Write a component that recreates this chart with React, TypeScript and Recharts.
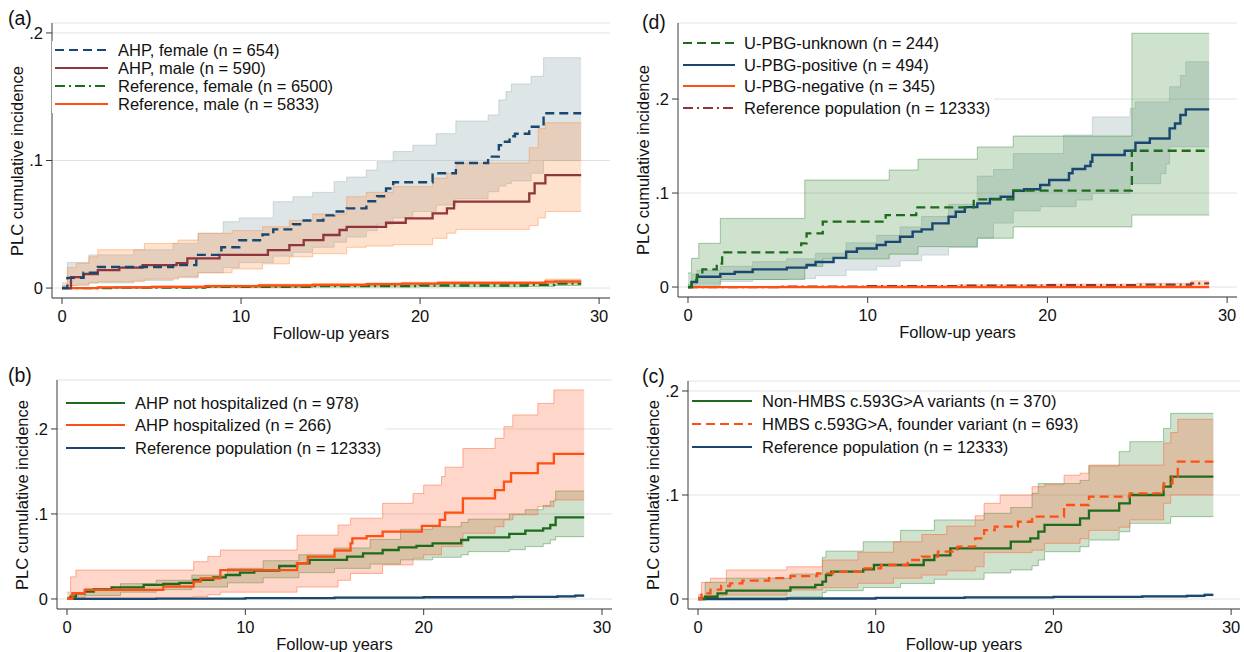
import React from 'react';
import { ComposedChart, Line, Area, XAxis, YAxis, CartesianGrid } from 'recharts';

const FONT = "'Liberation Sans', Arial, Helvetica, sans-serif";

const NAVY = '#1a476f';
const MAROON = '#90353b';
const GREEN = '#1e6b1e';
const ORANGE = '#ff4f12';
const GREY_CI = '#9fb4b8';
const PEACH_CI = '#ff8c3c';
const SALMON_CI = '#ff5a2d';
const GREEN_CI = '#3c8c3c';

const DASH = '9 5';
const DASH_DOT = '10 4 2 4';

const xTicks = [0, 10, 20, 30];
const yTicks = [0, 0.1, 0.2];

// (a) AHP by sex
const aFemT = [0, 0.3, 1.2, 2.0, 6.2, 7.5, 8.9, 9.9, 11.2, 11.8, 12.9, 13.5, 14.6, 15.2, 15.9, 17.0, 17.6, 18.1, 18.5, 20.7, 22.0, 23.8, 24.4, 24.6, 25.0, 25.3, 26.1, 26.9, 29.0];
const aFemV = [0, 0.008, 0.012, 0.0165, 0.018, 0.026, 0.032, 0.0375, 0.042, 0.046, 0.05, 0.053, 0.057, 0.06, 0.0625, 0.068, 0.072, 0.078, 0.083, 0.09, 0.098, 0.103, 0.112, 0.1147, 0.119, 0.121, 0.1265, 0.137, 0.137];
const aFemCiT = [0, 0.3, 1.5, 4, 6.2, 7.6, 9.0, 9.9, 11.8, 12.9, 14.0, 15.2, 15.9, 17.0, 17.6, 18.5, 19.6, 20.9, 22.0, 23.8, 24.4, 24.8, 25.1, 26.2, 26.9, 29.0];
const aFemHi = [0.002, 0.02, 0.026, 0.03, 0.035, 0.043, 0.052, 0.055, 0.0677, 0.0716, 0.075, 0.0834, 0.087, 0.0925, 0.099, 0.107, 0.112, 0.121, 0.131, 0.1357, 0.1475, 0.154, 0.16, 0.166, 0.1806, 0.1806];
const aFemLo = [0, 0.002, 0.004, 0.006, 0.008, 0.012, 0.016, 0.02, 0.025, 0.028, 0.032, 0.036, 0.04, 0.045, 0.05, 0.055, 0.06, 0.065, 0.07, 0.0755, 0.08, 0.082, 0.084, 0.09, 0.1, 0.1];
const aMaleT = [0, 0.5, 1.2, 2.0, 3.2, 4.5, 6.4, 7.0, 8.8, 11.5, 12.7, 13.5, 14.6, 15.5, 15.9, 18.1, 19.2, 20.7, 21.5, 21.9, 26.1, 26.4, 27.0, 29.0];
const aMaleV = [0, 0.0086, 0.011, 0.014, 0.016, 0.018, 0.0196, 0.0233, 0.026, 0.0298, 0.0337, 0.0376, 0.0416, 0.0455, 0.048, 0.0512, 0.0546, 0.0585, 0.0625, 0.0677, 0.0742, 0.082, 0.0886, 0.0886];
const aMaleCiT = [0, 0.3, 0.8, 1.5, 2.0, 4.6, 6.5, 7.6, 9.5, 11.2, 12.7, 14.0, 15.9, 17.0, 18.5, 20.7, 21.5, 22.0, 26.1, 26.6, 27.0, 29.0];
const aMaleHi = [0.004, 0.016, 0.0193, 0.0245, 0.03, 0.035, 0.0376, 0.0429, 0.045, 0.048, 0.053, 0.058, 0.0716, 0.075, 0.0795, 0.086, 0.09, 0.098, 0.11, 0.125, 0.1296, 0.1296];
const aMaleLo = [0, 0.002, 0.003, 0.004, 0.005, 0.007, 0.009, 0.012, 0.015, 0.019, 0.0245, 0.027, 0.032, 0.033, 0.034, 0.039, 0.043, 0.046, 0.049, 0.055, 0.06, 0.06];
const aRefFemT = [0, 3, 8, 14, 20, 26, 27.5, 29];
const aRefFemV = [0, 0.0004, 0.001, 0.0015, 0.002, 0.0025, 0.0035, 0.0035];
const aRefFemLo = [0, 0, 0.0004, 0.0008, 0.001, 0.0012, 0.002, 0.002];
const aRefFemHi = [0, 0.001, 0.002, 0.0025, 0.003, 0.004, 0.006, 0.006];
const aRefMaleT = [0, 2, 5, 8, 11, 14, 17, 19, 21, 27.0, 29];
const aRefMaleV = [0, 0.0005, 0.001, 0.0015, 0.002, 0.0025, 0.003, 0.0035, 0.004, 0.005, 0.005];
const aRefMaleLo = [0, 0.0002, 0.0005, 0.0008, 0.0012, 0.0016, 0.002, 0.0025, 0.003, 0.0035, 0.0035];
const aRefMaleHi = [0, 0.001, 0.0016, 0.0023, 0.003, 0.0035, 0.004, 0.0045, 0.005, 0.007, 0.007];

// (d) U-PBG status
const dUnkT = [0, 0.2, 0.5, 0.8, 1.6, 1.9, 6.3, 6.6, 7.5, 11.0, 12.7, 15.9, 18.1, 24.7, 29.0];
const dUnkV = [0, 0.0074, 0.0128, 0.0188, 0.025, 0.0369, 0.0465, 0.057, 0.0695, 0.0766, 0.0848, 0.0933, 0.1025, 0.145, 0.145];
const dUnkCiT = [0, 0.2, 0.6, 1.8, 6.5, 7.5, 11.2, 12.8, 16.1, 18.1, 24.7, 29.0];
const dUnkHi = [0.015, 0.0305, 0.0465, 0.073, 0.1138, 0.1138, 0.1245, 0.136, 0.149, 0.1606, 0.27, 0.27];
const dUnkLo = [0, 0, 0.002, 0.008, 0.022, 0.03, 0.035, 0.043, 0.052, 0.064, 0.0766, 0.0766];
const dPosT = [0, 0.2, 0.5, 1.8, 2.6, 3.6, 5.5, 6.6, 7.1, 8.1, 8.8, 9.4, 10.5, 11.0, 11.8, 12.5, 13.0, 13.6, 14.5, 14.9, 15.4, 16.1, 16.8, 17.4, 18.1, 18.7, 19.6, 20.1, 21.2, 21.4, 22.1, 22.4, 22.5, 24.3, 24.9, 25.7, 26.8, 27.1, 27.4, 27.7, 29.0];
const dPosV = [0, 0.0053, 0.011, 0.014, 0.016, 0.0188, 0.0206, 0.0234, 0.0266, 0.031, 0.0376, 0.041, 0.0447, 0.048, 0.0535, 0.0589, 0.0613, 0.0677, 0.0748, 0.0801, 0.085, 0.089, 0.0936, 0.096, 0.1025, 0.104, 0.1085, 0.1138, 0.121, 0.1255, 0.1287, 0.1333, 0.1404, 0.145, 0.1535, 0.158, 0.1688, 0.174, 0.183, 0.189, 0.189];
const dPosCiT = [0, 0.2, 0.5, 1.8, 3.6, 5.5, 7.1, 8.8, 10.5, 11.8, 13.0, 14.5, 16.1, 17.0, 18.1, 19.6, 20.9, 21.6, 22.5, 23.7, 24.6, 24.9, 26.3, 26.6, 26.8, 27.4, 27.7, 29.0];
const dPosHi = [0.003, 0.014, 0.018, 0.022, 0.027, 0.03, 0.036, 0.047, 0.055, 0.064, 0.075, 0.088, 0.118, 0.125, 0.142, 0.142, 0.1617, 0.1617, 0.181, 0.181, 0.19, 0.197, 0.197, 0.197, 0.213, 0.225, 0.2397, 0.2397];
const dPosLo = [0, 0.002, 0.004, 0.006, 0.008, 0.009, 0.012, 0.018, 0.022, 0.028, 0.034, 0.042, 0.052, 0.068, 0.081, 0.0855, 0.0855, 0.0926, 0.0996, 0.0996, 0.11, 0.11, 0.1206, 0.131, 0.1493, 0.1493, 0.1493, 0.1493];
const dNegT = [0, 29.0];
const dNegV = [0, 0];
const dRefT = [0, 5, 10, 15, 20, 25, 28, 29];
const dRefV = [0, 0.0005, 0.001, 0.0015, 0.002, 0.0025, 0.004, 0.004];
const dRefLo = [0, 0.0002, 0.0005, 0.0008, 0.001, 0.0014, 0.002, 0.002];
const dRefHi = [0, 0.001, 0.0018, 0.0025, 0.0032, 0.004, 0.0065, 0.0065];

// (b) hospitalization
const bNotT = [0, 0.2, 0.5, 1.0, 1.5, 2.5, 4.3, 5.4, 6.3, 7.1, 8.2, 8.9, 9.7, 10.5, 11.9, 12.9, 13.6, 15.7, 16.6, 17.7, 18.6, 19.6, 20.5, 22.1, 22.5, 24.8, 25.7, 26.7, 27.1, 27.4, 29.0];
const bNotV = [0, 0.0027, 0.0067, 0.0086, 0.0114, 0.0137, 0.0165, 0.0176, 0.019, 0.0224, 0.0255, 0.0282, 0.031, 0.0333, 0.0388, 0.042, 0.0459, 0.0498, 0.0537, 0.0576, 0.0608, 0.0624, 0.0655, 0.0694, 0.0725, 0.0765, 0.0804, 0.083, 0.087, 0.0961, 0.0961];
const bNotCiT = [0, 0.2, 1.0, 3.0, 5.0, 7.0, 9.0, 11.0, 13.0, 15.0, 17.0, 18.7, 20.5, 22.1, 22.5, 24.8, 25.7, 26.7, 27.1, 27.4, 29.0];
const bNotHi = [0.002, 0.006, 0.012, 0.018, 0.022, 0.028, 0.036, 0.045, 0.052, 0.06, 0.07, 0.082, 0.085, 0.09, 0.094, 0.1, 0.105, 0.11, 0.115, 0.127, 0.127];
const bNotLo = [0, 0.001, 0.004, 0.008, 0.011, 0.014, 0.019, 0.025, 0.031, 0.036, 0.041, 0.046, 0.049, 0.052, 0.0557, 0.058, 0.0616, 0.065, 0.0694, 0.0733, 0.0733];
const bHospT = [0, 0.3, 1.0, 5.4, 7.1, 7.5, 8.6, 12.9, 13.5, 15.0, 15.9, 16.0, 16.8, 17.7, 19.9, 20.9, 21.2, 22.2, 24.0, 24.5, 24.9, 26.4, 27.3, 29.0];
const bHospV = [0, 0.0067, 0.0106, 0.0145, 0.0204, 0.0243, 0.034, 0.042, 0.0498, 0.057, 0.0655, 0.0714, 0.074, 0.0792, 0.0859, 0.093, 0.1016, 0.1184, 0.128, 0.138, 0.148, 0.1596, 0.1706, 0.1706];
const bHospCiT = [0, 0.2, 0.5, 7.1, 7.9, 8.6, 12.9, 15.2, 15.9, 17.7, 19.4, 20.0, 21.0, 21.2, 22.2, 24.0, 24.5, 25.0, 26.4, 27.3, 29.0];
const bHospHi = [0.008, 0.026, 0.034, 0.0439, 0.05, 0.0576, 0.075, 0.087, 0.095, 0.1125, 0.124, 0.134, 0.144, 0.155, 0.177, 0.189, 0.2027, 0.2165, 0.23, 0.2459, 0.2459];
const bHospLo = [0, 0, 0.001, 0.003, 0.005, 0.008, 0.014, 0.022, 0.03, 0.04, 0.048, 0.052, 0.0616, 0.0616, 0.0773, 0.085, 0.093, 0.099, 0.1086, 0.1165, 0.1165];
const bRefT = [0, 5, 10, 15, 20, 25, 27.5, 28.5, 29];
const bRefV = [0, 0.0005, 0.001, 0.0015, 0.002, 0.0025, 0.003, 0.004, 0.004];
const bRefLo = [0, 0.0002, 0.0006, 0.001, 0.0014, 0.0018, 0.002, 0.003, 0.003];
const bRefHi = [0, 0.0008, 0.0014, 0.002, 0.0026, 0.0032, 0.004, 0.005, 0.005];

// (c) HMBS variant
const cNonT = [0, 0.4, 1.1, 1.6, 5.2, 6.6, 7.0, 7.2, 7.5, 9.3, 9.9, 12.7, 13.3, 14.2, 17.6, 18.7, 19.15, 19.5, 21.5, 22.0, 23.7, 24.3, 26.2, 26.6, 29.0];
const cNonV = [0, 0.0022, 0.0054, 0.008, 0.0112, 0.0135, 0.0167, 0.0231, 0.0263, 0.0285, 0.0327, 0.0375, 0.042, 0.0487, 0.0551, 0.0583, 0.0647, 0.0712, 0.0776, 0.085, 0.092, 0.1, 0.108, 0.1176, 0.1176];
const cNonCiT = [0, 0.4, 1.6, 5.2, 7.0, 7.2, 9.3, 11.4, 13.3, 16.1, 17.6, 18.8, 19.15, 19.5, 21.5, 22.0, 23.7, 24.3, 26.2, 26.6, 29.0];
const cNonHi = [0.002, 0.016, 0.02, 0.024, 0.04, 0.046, 0.055, 0.066, 0.076, 0.0824, 0.088, 0.1016, 0.111, 0.111, 0.114, 0.128, 0.1417, 0.1513, 0.164, 0.1785, 0.1785];
const cNonLo = [0, 0, 0.001, 0.002, 0.0062, 0.008, 0.011, 0.015, 0.019, 0.025, 0.028, 0.032, 0.0375, 0.0455, 0.0503, 0.0567, 0.0647, 0.0728, 0.0728, 0.0792, 0.0792];
const cHmbsT = [0, 0.2, 0.7, 1.3, 1.8, 2.5, 4.0, 5.2, 6.7, 7.6, 9.3, 10.3, 11.8, 12.6, 13.5, 14.6, 15.6, 16.1, 16.7, 18.0, 18.8, 20.6, 22.0, 24.3, 26.2, 26.7, 27.0, 29.0];
const cHmbsV = [0, 0.0054, 0.009, 0.0125, 0.015, 0.0176, 0.02, 0.022, 0.0247, 0.026, 0.0295, 0.0327, 0.0375, 0.0407, 0.0455, 0.0503, 0.0583, 0.0663, 0.0695, 0.0743, 0.0792, 0.0904, 0.0984, 0.1016, 0.1112, 0.1176, 0.132, 0.132];
const cHmbsCiT = [0, 0.2, 0.7, 1.6, 5.0, 7.0, 9.0, 11.0, 12.6, 14.0, 15.6, 16.1, 17.0, 18.8, 19.5, 20.6, 21.5, 22.0, 23.7, 24.3, 26.2, 26.6, 27.0, 29.0];
const cHmbsHi = [0.004, 0.016, 0.02, 0.0279, 0.031, 0.0375, 0.045, 0.055, 0.062, 0.07, 0.08, 0.092, 0.1, 0.108, 0.11, 0.119, 0.121, 0.1288, 0.1288, 0.1288, 0.15, 0.16, 0.1728, 0.1728];
const cHmbsLo = [0, 0.002, 0.003, 0.0038, 0.0086, 0.011, 0.0151, 0.02, 0.023, 0.027, 0.031, 0.0446, 0.0446, 0.047, 0.0535, 0.0535, 0.058, 0.066, 0.069, 0.076, 0.092, 0.1, 0.1, 0.1];
const cRefT = [0, 5, 10, 15, 20, 25, 27.5, 28.5, 29];
const cRefV = [0, 0.0005, 0.001, 0.0015, 0.002, 0.0025, 0.003, 0.004, 0.004];
const cRefLo = [0, 0.0002, 0.0006, 0.001, 0.0014, 0.0018, 0.002, 0.003, 0.003];
const cRefHi = [0, 0.0008, 0.0014, 0.002, 0.0026, 0.0032, 0.004, 0.005, 0.005];

const steps = (t: number[], v: number[]) => t.map((x, i) => ({ t: x, v: v[i] }));
const band = (t: number[], lo: number[], hi: number[]) => t.map((x, i) => ({ t: x, range: [lo[i], hi[i]] }));

type SeriesLine = { data: any[]; color: string; dash?: string; width?: number };
type SeriesBand = { data: any[]; color: string; opacity?: number };
type LegendItem = { label: string; color: string; dash?: string };

interface PanelProps {
  letter: string;
  letterPos: [number, number];
  plot: { x: number; y: number; w: number; h: number };
  xDomain: [number, number];
  yDomain: [number, number];
  bands: SeriesBand[];
  lines: SeriesLine[];
  legend: { items: LegendItem[]; sampleX: number; sampleW: number; textX: number; firstY: number; rowH: number };
}

const fmtY = (v: number) => (v === 0 ? '0' : String(v).replace(/^0/, ''));

const textStyle: React.CSSProperties = {
  position: 'absolute',
  whiteSpace: 'nowrap',
  fontFamily: FONT,
  fontSize: 16.5,
  color: '#111',
  lineHeight: '18px',
};

function Panel(p: PanelProps) {
  const { x, y, w, h } = p.plot;
  const lg = p.legend;
  return (
    <>
      <div style={{ position: 'absolute', left: x - 50, top: y - 10 }}>
        <ComposedChart width={w + 54} height={h + 40} margin={{ top: 10, right: 4, bottom: 0, left: 0 }}>
          <CartesianGrid vertical={false} stroke="#e2e2e2" />
          <XAxis
            type="number"
            dataKey="t"
            domain={p.xDomain}
            ticks={xTicks}
            interval={0}
            allowDataOverflow
            height={30}
            tickSize={6}
            tickMargin={6}
            stroke="#3a3a3a"
            tick={{ fill: '#111', fontSize: 16.5, fontFamily: FONT }}
          />
          <YAxis
            type="number"
            domain={p.yDomain}
            ticks={yTicks}
            interval={0}
            allowDataOverflow
            width={50}
            tickSize={6}
            tickMargin={3}
            stroke="#3a3a3a"
            tickFormatter={fmtY}
            tick={{ fill: '#111', fontSize: 16.5, fontFamily: FONT }}
          />
          {p.bands.map((b, i) => (
            <Area
              key={'b' + i}
              type="stepAfter"
              data={b.data}
              dataKey="range"
              fill={b.color}
              fillOpacity={b.opacity ?? 0.25}
              stroke={b.color}
              strokeOpacity={0.45}
              strokeWidth={1}
              dot={false}
              activeDot={false}
              isAnimationActive={false}
            />
          ))}
          {p.lines.map((l, i) => (
            <Line
              key={'l' + i}
              type="stepAfter"
              data={l.data}
              dataKey="v"
              stroke={l.color}
              strokeWidth={l.width ?? 2.3}
              strokeDasharray={l.dash}
              dot={false}
              activeDot={false}
              isAnimationActive={false}
            />
          ))}
        </ComposedChart>
      </div>

      <div
        style={{
          position: 'absolute',
          left: lg.sampleX - 3,
          top: lg.firstY - 9,
          height: (lg.items.length - 1) * lg.rowH + 18,
          background: '#fff',
          paddingRight: 4,
        }}
      >
        {lg.items.map((it, i) => (
          <div key={it.label} style={{ position: 'relative', height: 0 }}>
            <svg
              width={lg.sampleW}
              height={6}
              style={{ position: 'absolute', left: 3, top: i * lg.rowH + 6 }}
            >
              <line x1={0} x2={lg.sampleW} y1={3} y2={3} stroke={it.color} strokeWidth={2.2} strokeDasharray={it.dash} />
            </svg>
            <div style={{ ...textStyle, position: 'relative', top: i * lg.rowH, marginLeft: lg.textX - lg.sampleX + 3 }}>
              {it.label}
            </div>
          </div>
        ))}
      </div>

      <div style={{ ...textStyle, fontSize: 19.5, left: p.letterPos[0], top: p.letterPos[1], transform: 'translateY(-50%)' }}>
        {p.letter}
      </div>
      <div
        style={{
          ...textStyle,
          left: x - 35,
          top: y + h / 2,
          transform: 'translate(-50%, -50%) rotate(-90deg)',
        }}
      >
        PLC cumulative incidence
      </div>
      <div style={{ ...textStyle, left: x + w / 2, top: y + h + 35, transform: 'translate(-50%, -50%)' }}>
        Follow-up years
      </div>
    </>
  );
}

export default function App() {
  return (
    <div style={{ position: 'absolute', left: 0, top: 0, width: 1244, height: 652, background: '#fff', overflow: 'hidden' }}>
      <Panel
        letter="(a)"
        letterPos={[8, 18]}
        plot={{ x: 52, y: 23, w: 558, h: 275 }}
        xDomain={[-0.56, 30.61]}
        yDomain={[-0.0078, 0.2078]}
        bands={[
          { data: band(aRefFemT, aRefFemLo, aRefFemHi), color: GREEN_CI },
          { data: band(aRefMaleT, aRefMaleLo, aRefMaleHi), color: PEACH_CI },
          { data: band(aFemCiT, aFemLo, aFemHi), color: GREY_CI, opacity: 0.35 },
          { data: band(aMaleCiT, aMaleLo, aMaleHi), color: PEACH_CI },
        ]}
        lines={[
          { data: steps(aRefFemT, aRefFemV), color: GREEN, dash: DASH_DOT },
          { data: steps(aRefMaleT, aRefMaleV), color: ORANGE },
          { data: steps(aMaleT, aMaleV), color: MAROON },
          { data: steps(aFemT, aFemV), color: NAVY, dash: DASH, width: 2.4 },
        ]}
        legend={{
          items: [
            { label: 'AHP, female (n = 654)', color: NAVY, dash: DASH },
            { label: 'AHP, male (n = 590)', color: MAROON },
            { label: 'Reference, female (n = 6500)', color: GREEN, dash: DASH_DOT },
            { label: 'Reference, male (n = 5833)', color: ORANGE },
          ],
          sampleX: 55,
          sampleW: 53,
          textX: 118,
          firstY: 50,
          rowH: 18,
        }}
      />
      <Panel
        letter="(d)"
        letterPos={[642, 22]}
        plot={{ x: 678, y: 23, w: 559, h: 274 }}
        xDomain={[-0.556, 30.55]}
        yDomain={[-0.0106, 0.2809]}
        bands={[
          { data: band(dRefT, dRefLo, dRefHi), color: PEACH_CI },
          { data: band(dPosCiT, dPosLo, dPosHi), color: GREY_CI, opacity: 0.35 },
          { data: band(dUnkCiT, dUnkLo, dUnkHi), color: GREEN_CI },
        ]}
        lines={[
          { data: steps(dRefT, dRefV), color: MAROON, dash: DASH_DOT },
          { data: steps(dNegT, dNegV), color: ORANGE },
          { data: steps(dPosT, dPosV), color: NAVY, width: 2.4 },
          { data: steps(dUnkT, dUnkV), color: GREEN, dash: DASH },
        ]}
        legend={{
          items: [
            { label: 'U-PBG-unknown (n = 244)', color: GREEN, dash: DASH },
            { label: 'U-PBG-positive (n = 494)', color: NAVY },
            { label: 'U-PBG-negative (n = 345)', color: ORANGE },
            { label: 'Reference population (n = 12333)', color: MAROON, dash: DASH_DOT },
          ],
          sampleX: 683,
          sampleW: 52,
          textX: 744,
          firstY: 42.7,
          rowH: 21.9,
        }}
      />
      <Panel
        letter="(b)"
        letterPos={[8, 375]}
        plot={{ x: 57, y: 380, w: 555, h: 229 }}
        xDomain={[-0.561, 30.56]}
        yDomain={[-0.0118, 0.2576]}
        bands={[
          { data: band(bRefT, bRefLo, bRefHi), color: GREY_CI, opacity: 0.35 },
          { data: band(bNotCiT, bNotLo, bNotHi), color: GREEN_CI },
          { data: band(bHospCiT, bHospLo, bHospHi), color: SALMON_CI },
        ]}
        lines={[
          { data: steps(bRefT, bRefV), color: NAVY },
          { data: steps(bNotT, bNotV), color: GREEN },
          { data: steps(bHospT, bHospV), color: ORANGE },
        ]}
        legend={{
          items: [
            { label: 'AHP not hospitalized (n = 978)', color: GREEN },
            { label: 'AHP hospitalized (n = 266)', color: ORANGE },
            { label: 'Reference population (n = 12333)', color: NAVY },
          ],
          sampleX: 66,
          sampleW: 59,
          textX: 135,
          firstY: 402.7,
          rowH: 22.8,
        }}
      />
      <Panel
        letter="(c)"
        letterPos={[642, 376]}
        plot={{ x: 688, y: 381, w: 552, h: 228 }}
        xDomain={[-0.563, 30.5]}
        yDomain={[-0.0096, 0.2096]}
        bands={[
          { data: band(cRefT, cRefLo, cRefHi), color: GREY_CI, opacity: 0.35 },
          { data: band(cNonCiT, cNonLo, cNonHi), color: GREEN_CI },
          { data: band(cHmbsCiT, cHmbsLo, cHmbsHi), color: SALMON_CI },
        ]}
        lines={[
          { data: steps(cRefT, cRefV), color: NAVY },
          { data: steps(cNonT, cNonV), color: GREEN },
          { data: steps(cHmbsT, cHmbsV), color: ORANGE, dash: DASH },
        ]}
        legend={{
          items: [
            { label: 'Non-HMBS c.593G>A variants (n = 370)', color: GREEN },
            { label: 'HMBS c.593G>A, founder variant (n = 693)', color: ORANGE, dash: DASH },
            { label: 'Reference population (n = 12333)', color: NAVY },
          ],
          sampleX: 692,
          sampleW: 60,
          textX: 762,
          firstY: 401,
          rowH: 22.85,
        }}
      />
    </div>
  );
}
